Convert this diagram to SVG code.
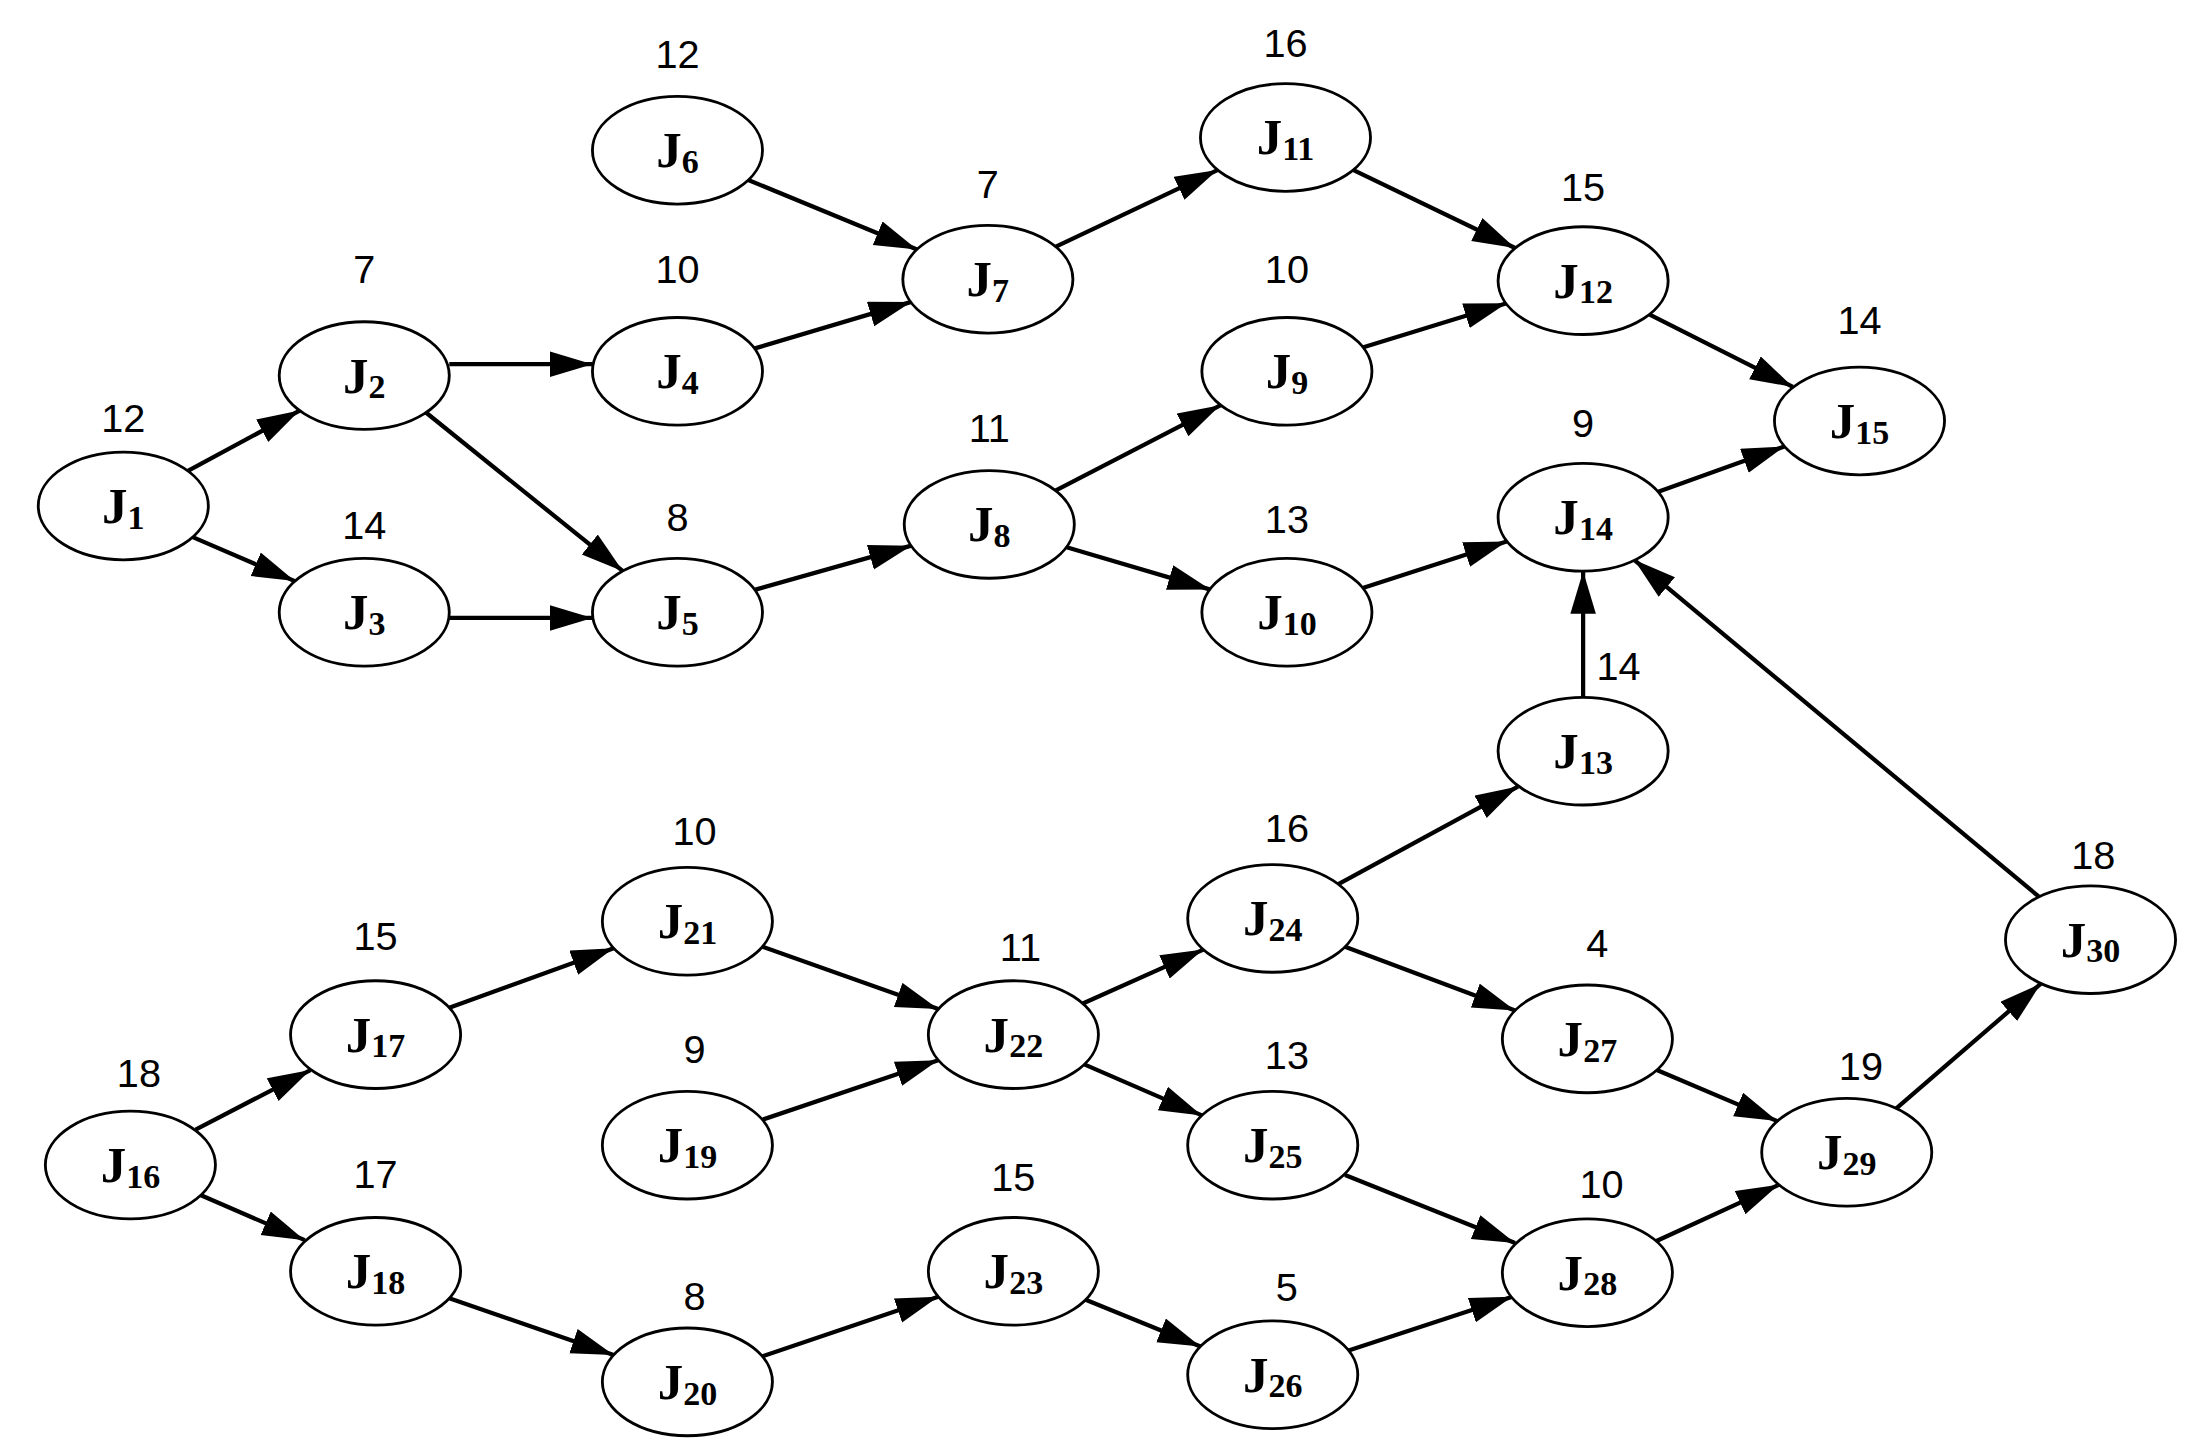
<svg xmlns="http://www.w3.org/2000/svg" width="2201" height="1447" viewBox="0 0 2201 1447">
<style>
.n ellipse{fill:#fff;stroke:#000;stroke-width:2}
.j{font-family:"Liberation Serif",serif;font-weight:bold;font-size:36px;text-anchor:middle}
.s{font-size:24px}
.w{font-family:"Liberation Sans",sans-serif;font-size:28px;text-anchor:middle}
#edges line{stroke:#000;stroke-width:3;marker-end:url(#a)}
</style>
<defs><marker id="a" markerUnits="userSpaceOnUse" markerWidth="32" markerHeight="20" refX="30" refY="9" orient="auto"><path d="M0,0 L30,9 L0,18 z"/></marker></defs>
<rect width="2201" height="1447" fill="#fff"/>
<g transform="scale(1.4173)">
<g id="edges">
<line x1="132.6" y1="332.3" x2="211.4" y2="289.7"/>
<line x1="136" y1="379" x2="208" y2="410"/>
<line x1="317" y1="257" x2="418" y2="257"/>
<line x1="295.5" y1="287" x2="439.5" y2="403"/>
<line x1="317" y1="436" x2="418" y2="436"/>
<line x1="532" y1="246" x2="643" y2="213"/>
<line x1="528" y1="127" x2="647" y2="176"/>
<line x1="533" y1="416" x2="643" y2="385"/>
<line x1="745" y1="174" x2="859" y2="120"/>
<line x1="745" y1="346" x2="861" y2="286"/>
<line x1="752" y1="386" x2="854" y2="416"/>
<line x1="955" y1="120" x2="1069" y2="175"/>
<line x1="962" y1="245" x2="1063" y2="214"/>
<line x1="1164" y1="222" x2="1265" y2="273"/>
<line x1="961" y1="415" x2="1063" y2="382"/>
<line x1="1170" y1="347" x2="1259" y2="315"/>
<line x1="1117" y1="492" x2="1117" y2="403"/>
<line x1="1439" y1="633" x2="1153" y2="395"/>
<line x1="138" y1="797" x2="219" y2="755"/>
<line x1="141" y1="843" x2="215" y2="875"/>
<line x1="317" y1="711" x2="433" y2="669"/>
<line x1="538" y1="668" x2="662" y2="712"/>
<line x1="538" y1="790" x2="662" y2="748"/>
<line x1="317" y1="916" x2="433" y2="956"/>
<line x1="538" y1="957" x2="662" y2="915"/>
<line x1="764" y1="708" x2="849" y2="670"/>
<line x1="765" y1="751" x2="848" y2="787"/>
<line x1="944" y1="624" x2="1071" y2="555"/>
<line x1="949" y1="668" x2="1069" y2="713"/>
<line x1="766" y1="917" x2="847" y2="950"/>
<line x1="949" y1="829" x2="1069" y2="877"/>
<line x1="951" y1="953" x2="1067" y2="915"/>
<line x1="1169" y1="755" x2="1254" y2="791"/>
<line x1="1168" y1="876" x2="1255" y2="836"/>
<line x1="1338" y1="782" x2="1440" y2="694"/>
</g>
<g id="J1" class="n"><ellipse cx="87" cy="357" rx="60" ry="38"/><text class="j" x="87" y="369">J<tspan class="s" dy="4">1</tspan></text><text class="w" x="87" y="305">12</text></g>
<g id="J2" class="n"><ellipse cx="257" cy="265" rx="60" ry="38"/><text class="j" x="257" y="277">J<tspan class="s" dy="4">2</tspan></text><text class="w" x="257" y="200">7</text></g>
<g id="J3" class="n"><ellipse cx="257" cy="432" rx="60" ry="38"/><text class="j" x="257" y="444">J<tspan class="s" dy="4">3</tspan></text><text class="w" x="257" y="380">14</text></g>
<g id="J4" class="n"><ellipse cx="478" cy="262" rx="60" ry="38"/><text class="j" x="478" y="274">J<tspan class="s" dy="4">4</tspan></text><text class="w" x="478" y="200">10</text></g>
<g id="J5" class="n"><ellipse cx="478" cy="432" rx="60" ry="38"/><text class="j" x="478" y="444">J<tspan class="s" dy="4">5</tspan></text><text class="w" x="478" y="375">8</text></g>
<g id="J6" class="n"><ellipse cx="478" cy="106" rx="60" ry="38"/><text class="j" x="478" y="118">J<tspan class="s" dy="4">6</tspan></text><text class="w" x="478" y="48">12</text></g>
<g id="J7" class="n"><ellipse cx="697" cy="197" rx="60" ry="38"/><text class="j" x="697" y="209">J<tspan class="s" dy="4">7</tspan></text><text class="w" x="697" y="140">7</text></g>
<g id="J8" class="n"><ellipse cx="698" cy="370" rx="60" ry="38"/><text class="j" x="698" y="382">J<tspan class="s" dy="4">8</tspan></text><text class="w" x="698" y="312">11</text></g>
<g id="J9" class="n"><ellipse cx="908" cy="262" rx="60" ry="38"/><text class="j" x="908" y="274">J<tspan class="s" dy="4">9</tspan></text><text class="w" x="908" y="200">10</text></g>
<g id="J10" class="n"><ellipse cx="908" cy="432" rx="60" ry="38"/><text class="j" x="908" y="444">J<tspan class="s" dy="4">10</tspan></text><text class="w" x="908" y="376">13</text></g>
<g id="J11" class="n"><ellipse cx="907" cy="97" rx="60" ry="38"/><text class="j" x="907" y="109">J<tspan class="s" dy="4">11</tspan></text><text class="w" x="907" y="40">16</text></g>
<g id="J12" class="n"><ellipse cx="1117" cy="198" rx="60" ry="38"/><text class="j" x="1117" y="210">J<tspan class="s" dy="4">12</tspan></text><text class="w" x="1117" y="142">15</text></g>
<g id="J13" class="n"><ellipse cx="1117" cy="530" rx="60" ry="38"/><text class="j" x="1117" y="542">J<tspan class="s" dy="4">13</tspan></text><text class="w" x="1142" y="480">14</text></g>
<g id="J14" class="n"><ellipse cx="1117" cy="365" rx="60" ry="38"/><text class="j" x="1117" y="377">J<tspan class="s" dy="4">14</tspan></text><text class="w" x="1117" y="308">9</text></g>
<g id="J15" class="n"><ellipse cx="1312" cy="297" rx="60" ry="38"/><text class="j" x="1312" y="309">J<tspan class="s" dy="4">15</tspan></text><text class="w" x="1312" y="236">14</text></g>
<g id="J16" class="n"><ellipse cx="92" cy="822" rx="60" ry="38"/><text class="j" x="92" y="834">J<tspan class="s" dy="4">16</tspan></text><text class="w" x="98" y="767">18</text></g>
<g id="J17" class="n"><ellipse cx="265" cy="730" rx="60" ry="38"/><text class="j" x="265" y="742">J<tspan class="s" dy="4">17</tspan></text><text class="w" x="265" y="670">15</text></g>
<g id="J18" class="n"><ellipse cx="265" cy="897" rx="60" ry="38"/><text class="j" x="265" y="909">J<tspan class="s" dy="4">18</tspan></text><text class="w" x="265" y="838">17</text></g>
<g id="J19" class="n"><ellipse cx="485" cy="808" rx="60" ry="38"/><text class="j" x="485" y="820">J<tspan class="s" dy="4">19</tspan></text><text class="w" x="490" y="750">9</text></g>
<g id="J20" class="n"><ellipse cx="485" cy="975" rx="60" ry="38"/><text class="j" x="485" y="987">J<tspan class="s" dy="4">20</tspan></text><text class="w" x="490" y="924">8</text></g>
<g id="J21" class="n"><ellipse cx="485" cy="650" rx="60" ry="38"/><text class="j" x="485" y="662">J<tspan class="s" dy="4">21</tspan></text><text class="w" x="490" y="596">10</text></g>
<g id="J22" class="n"><ellipse cx="715" cy="730" rx="60" ry="38"/><text class="j" x="715" y="742">J<tspan class="s" dy="4">22</tspan></text><text class="w" x="720" y="678">11</text></g>
<g id="J23" class="n"><ellipse cx="715" cy="897" rx="60" ry="38"/><text class="j" x="715" y="909">J<tspan class="s" dy="4">23</tspan></text><text class="w" x="715" y="840">15</text></g>
<g id="J24" class="n"><ellipse cx="898" cy="648" rx="60" ry="38"/><text class="j" x="898" y="660">J<tspan class="s" dy="4">24</tspan></text><text class="w" x="908" y="594">16</text></g>
<g id="J25" class="n"><ellipse cx="898" cy="808" rx="60" ry="38"/><text class="j" x="898" y="820">J<tspan class="s" dy="4">25</tspan></text><text class="w" x="908" y="754">13</text></g>
<g id="J26" class="n"><ellipse cx="898" cy="970" rx="60" ry="38"/><text class="j" x="898" y="982">J<tspan class="s" dy="4">26</tspan></text><text class="w" x="908" y="918">5</text></g>
<g id="J27" class="n"><ellipse cx="1120" cy="733" rx="60" ry="38"/><text class="j" x="1120" y="745">J<tspan class="s" dy="4">27</tspan></text><text class="w" x="1127" y="675">4</text></g>
<g id="J28" class="n"><ellipse cx="1120" cy="898" rx="60" ry="38"/><text class="j" x="1120" y="910">J<tspan class="s" dy="4">28</tspan></text><text class="w" x="1130" y="845">10</text></g>
<g id="J29" class="n"><ellipse cx="1303" cy="813" rx="60" ry="38"/><text class="j" x="1303" y="825">J<tspan class="s" dy="4">29</tspan></text><text class="w" x="1313" y="762">19</text></g>
<g id="J30" class="n"><ellipse cx="1475" cy="663" rx="60" ry="38"/><text class="j" x="1475" y="675">J<tspan class="s" dy="4">30</tspan></text><text class="w" x="1477" y="613">18</text></g>
</g>
</svg>
